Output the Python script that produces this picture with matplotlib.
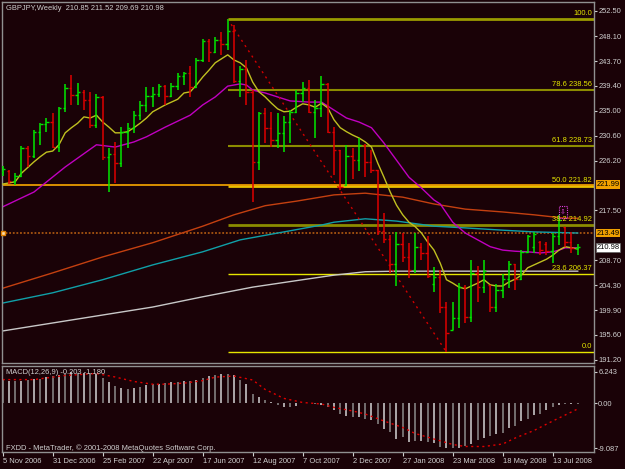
import matplotlib
matplotlib.use("Agg")
import matplotlib.pyplot as plt
import matplotlib.transforms as mtransforms
from matplotlib.patches import Rectangle

plt.rcParams['font.family'] = ['Liberation Sans', 'DejaVu Sans']

bg = "#1a0207"
grey = "#d0d0d0"
up = "#00e800"
down = "#e00000"

# weekly GBPJPY bars, 5 Nov 2006 .. Aug 2008
opens = [224.2, 224.4, 222.6, 223.5, 228.4, 227.0, 231.2, 232.6, 233.0, 228.6,
         235.5, 239.0, 237.8, 238.2, 236.9, 232.5, 237.4, 226.9, 227.3, 225.8,
         231.2, 232.0, 234.2, 236.0, 237.6, 237.9, 239.3, 237.6, 239.3, 241.1,
         241.6, 239.2, 243.9, 247.2, 245.3, 247.4, 246.7, 249.0, 240.2, 242.3,
         238.3, 226.0, 234.6, 232.0, 229.8, 231.0, 233.0, 234.8, 238.1, 239.0,
         234.8, 235.5, 239.7, 231.2, 228.0, 222.0, 227.0, 226.3, 229.0, 226.0,
         224.5, 213.8, 212.5, 208.1, 211.6, 209.3, 207.0, 211.0, 210.0, 204.5,
         205.8, 200.5, 196.5, 198.5, 204.0, 198.8, 206.5, 204.0, 204.3, 200.5,
         203.5, 205.5, 208.0, 205.5, 210.2, 211.0, 212.0, 211.5, 210.3, 213.0,
         214.5, 212.0, 210.85]
highs = [225.3, 224.6, 224.0, 228.8, 228.8, 231.6, 232.8, 233.7, 234.6, 235.6,
         239.7, 241.3, 239.9, 238.6, 238.3, 237.9, 237.6, 228.4, 229.5, 232.1,
         232.8, 234.9, 236.7, 239.2, 239.2, 239.7, 239.5, 239.9, 241.6, 241.8,
         242.8, 244.2, 247.6, 247.6, 247.9, 248.8, 251.08, 250.0, 242.8, 243.9,
         238.6, 234.8, 235.5, 234.8, 234.6, 234.1, 235.1, 238.6, 240.0, 240.4,
         236.9, 241.1, 239.8, 232.1, 228.1, 229.0, 228.4, 230.2, 229.1, 228.1,
         224.6, 217.0, 213.2, 213.7, 213.5, 211.8, 213.5, 211.8, 213.0, 207.5,
         207.0, 201.4, 201.4, 204.7, 204.4, 208.8, 207.7, 208.8, 204.4, 204.6,
         206.3, 208.6, 208.1, 210.5, 213.2, 213.7, 212.1, 211.9, 213.5, 216.7,
         214.6, 213.7, 211.52]
lows = [223.5, 222.1, 221.9, 223.3, 225.1, 226.7, 229.0, 231.2, 228.4, 227.7,
        234.8, 236.0, 236.0, 235.1, 231.9, 231.9, 226.3, 220.7, 222.3, 225.1,
        228.4, 231.1, 233.4, 234.8, 235.6, 237.4, 236.0, 237.4, 238.6, 239.5,
        237.4, 239.0, 243.5, 243.5, 245.2, 244.8, 245.7, 239.9, 237.4, 236.0,
        218.9, 224.6, 229.3, 228.6, 228.4, 227.7, 229.3, 234.6, 236.5, 234.6,
        230.2, 233.9, 231.1, 223.7, 221.1, 221.8, 223.0, 224.4, 223.3, 224.0,
        213.2, 211.8, 206.5, 204.2, 208.4, 205.6, 206.5, 208.8, 205.6, 203.1,
        199.5, 192.56, 196.4, 196.8, 197.7, 197.9, 201.4, 203.0, 199.6, 199.6,
        202.1, 203.9, 203.5, 205.3, 210.0, 210.0, 209.6, 209.6, 208.2, 211.4,
        211.1, 210.0, 209.69]
closes = [224.8, 222.6, 223.5, 228.4, 227.0, 231.2, 232.6, 233.0, 228.6, 235.5,
          239.0, 237.8, 238.2, 236.9, 232.5, 237.4, 226.9, 227.3, 225.8, 231.2,
          232.0, 234.2, 236.0, 237.6, 237.9, 239.3, 237.6, 239.3, 241.1, 241.6,
          239.2, 243.9, 247.2, 245.3, 247.4, 246.7, 249.0, 240.2, 242.3, 238.3,
          226.0, 234.6, 232.0, 229.8, 231.0, 233.0, 234.8, 238.1, 239.0, 234.8,
          235.5, 239.7, 231.2, 228.0, 221.5, 227.0, 226.3, 229.0, 226.0, 224.5,
          213.8, 212.5, 208.1, 211.6, 209.3, 207.0, 211.0, 210.0, 206.0, 205.8,
          200.5, 196.0, 198.5, 204.0, 198.8, 206.5, 204.0, 206.8, 200.5, 203.5,
          205.5, 208.0, 205.5, 210.2, 213.0, 213.4, 210.5, 210.3, 213.0, 215.8,
          212.0, 210.85, 210.98]

# moving averages
yellow_ma = [222.1, 222.3, 222.5, 224.0, 225.0, 226.0, 226.9, 227.7, 227.9, 229.0,
             231.1, 232.0, 232.8, 233.9, 233.7, 234.2, 233.0, 232.1, 231.1, 231.1,
             231.3, 232.0, 232.8, 233.7, 234.8, 235.4, 236.0, 236.5, 237.0, 238.1,
             238.3, 239.5, 240.9, 242.1, 243.4, 244.1, 244.8, 243.9, 243.4, 242.5,
             240.0, 238.3, 237.4, 236.3, 235.3, 234.8, 234.9, 235.6, 236.2, 236.0,
             235.6, 236.3, 235.5, 233.4, 232.0, 231.3, 230.7, 230.2, 229.5, 228.6,
             225.8, 223.3, 220.7, 218.4, 216.7, 215.4, 214.6, 213.5, 211.9, 210.5,
             208.2, 205.3, 204.7, 204.0, 203.7, 204.2, 204.7, 205.3, 204.4, 204.2,
             204.2, 204.9, 205.4, 206.1, 207.4, 207.9, 208.4, 208.9, 209.6, 210.5,
             211.1, 210.9, 210.7]
magenta_x = [0, 5, 10, 15, 18, 21, 23, 26, 30, 32, 34, 36, 38, 39, 40, 42, 44, 46,
             49, 51, 53, 55, 57, 59, 61, 63, 65, 67, 69, 70, 72, 74, 76, 78, 80,
             82, 84, 86, 88, 89, 90, 92]
magenta_ma = [218.1, 220.7, 225.1, 229.0, 228.6, 229.5, 230.4, 232.1, 234.2, 236.0,
              237.4, 239.3, 239.7, 239.5, 238.6, 238.1, 237.4, 236.7, 236.5, 236.5,
              235.1, 233.7, 233.0, 232.0, 229.3, 226.3, 223.3, 221.4, 219.3, 218.6,
              215.4, 213.5, 212.3, 211.1, 210.5, 210.3, 210.2, 210.0, 210.2, 210.5,
              210.9, 210.9]
orange_x = [0, 8, 16, 24, 32, 37, 42, 47, 53, 58, 64, 69, 74, 80, 85, 90, 92]
orange_ma = [203.8, 206.5, 209.3, 211.8, 214.7, 216.7, 218.3, 219.1, 220.2, 220.5,
             219.8, 218.6, 217.7, 217.2, 216.7, 216.1, 216.1]
cyan_x = [0, 8, 16, 24, 32, 38, 45, 51, 53, 58, 63, 69, 74, 80, 85, 92]
cyan_ma = [201.2, 203.0, 205.3, 207.9, 210.2, 212.3, 213.7, 214.9, 215.4, 216.0,
           215.6, 214.7, 214.4, 214.0, 213.7, 213.5]
white_x = [0, 8, 16, 24, 32, 40, 48, 53, 58, 63, 74, 92]
white_ma = [196.3, 197.7, 199.1, 200.5, 202.3, 204.0, 205.3, 206.1, 206.7, 206.8,
            206.8, 206.8]

# fibonacci retracement, bar 36 high to bar 71 low
fib_levels = ["0.0", "23.6", "38.2", "50.0", "61.8", "78.6", "100.0"]
fib_prices = [192.56, 206.37, 214.92, 221.82, 228.73, 238.56, 251.08]
fib_colors = ["#e6e600", "#e6e600", "#8c8c00", "#e8c000", "#8c8c00", "#8c8c00", "#9a9a00"]
fib_widths = [1.0, 1.0, 2.0, 2.0, 1.5, 1.5, 2.0]

# MACD(12,26,9)
macd = [4.68, 4.47, 4.47, 4.47, 4.68, 4.82, 4.82, 5.18, 5.39, 5.67,
        5.89, 6.24, 6.10, 6.10, 6.10, 5.89, 4.96, 4.11, 3.40, 3.05,
        2.84, 3.05, 3.26, 3.55, 3.76, 3.90, 3.97, 4.11, 4.26, 4.47,
        4.47, 4.68, 4.96, 5.39, 5.67, 5.82, 5.89, 5.53, 4.68, 3.76,
        1.84, 1.13, 0.57, 0.21, -0.3, -0.85, -0.85, -0.5, -0.05, -0.07,
        -0.2, -0.4, -0.87, -1.4, -2.2, -2.53, -2.73, -2.87, -3.2, -3.4,
        -4.2, -5.2, -5.87, -7.2, -6.87, -7.87, -7.53, -7.67, -7.87, -8.07,
        -8.73, -9.0, -9.087, -9.0, -8.6, -8.1, -7.4, -7.0, -6.6, -6.1,
        -5.9, -4.9, -4.6, -3.6, -3.2, -2.4, -2.1, -1.3, -0.7, -0.4,
        -0.2, -0.2, -0.203]
signal_x = [0, 5, 10, 15, 18, 21, 24, 26, 29, 32, 34, 37, 40, 42, 45, 48, 51,
            53, 56, 58, 61, 64, 66, 69, 72, 74, 77, 80, 82, 85, 88, 90, 92]
signal = [4.68, 4.68, 5.5, 5.9, 5.2, 4.3, 3.76, 3.76, 3.97, 4.47, 5.18, 5.39, 4.6,
          2.7, 0.92, 0.1, -0.2, -0.87, -1.6, -2.2, -3.6, -4.9, -6.1, -7.2, -8.3,
          -8.7, -8.7, -8.2, -7.0, -5.5, -3.6, -2.4, -1.18]

price_ticks = [252.50, 248.10, 243.70, 239.40, 235.00, 230.60, 226.20,
               217.50, 208.70, 204.30, 199.90, 195.60, 191.20]
date_labels = ["5 Nov 2006", "31 Dec 2006", "25 Feb 2007", "22 Apr 2007",
               "17 Jun 2007", "12 Aug 2007", "7 Oct 2007", "2 Dec 2007",
               "27 Jan 2008", "23 Mar 2008", "18 May 2008", "13 Jul 2008"]

fs = 5.4
fig = plt.figure(figsize=(6.25, 4.69), dpi=100, facecolor=bg)
ax = fig.add_axes([2/625, 106/469, 592/625, 361/469], facecolor=bg)
am = fig.add_axes([2/625, 17/469, 592/625, 86/469], facecolor=bg)

n = len(closes)
idx = list(range(n))
xmax = 94.6

# fibo lines and labels
for lvl, p, c, w in zip(fib_levels, fib_prices, fib_colors, fib_widths):
    ax.hlines(p, 36, xmax, color=c, lw=w, zorder=1)
    txt = lvl if lvl in ("0.0", "100.0") else f"{lvl} {p:.2f}"
    ax.text(xmax - 0.3, p + 0.35, txt, color="#e6e600", fontsize=fs,
            ha="right", va="bottom", zorder=6)

ax.axhline(221.99, color="#e89a00", lw=1.3, zorder=1)
ax.axhline(213.49, color="#a85510", lw=1.3, ls=(0, (1, 1)), zorder=1)
ax.plot([0.1], [213.49], marker="s", ms=3.5, mfc="#ffe0b0", mec="#e08000", zorder=7, clip_on=False)

# moving averages
ax.plot(white_x, white_ma, color="#c8c8c8", lw=1, zorder=2)
ax.plot(cyan_x, cyan_ma, color="#10a0a8", lw=1, zorder=2)
ax.plot(orange_x, orange_ma, color="#c44010", lw=1, zorder=2)
ax.plot(magenta_x, magenta_ma, color="#c000c0", lw=1, zorder=2)
ax.plot(idx, yellow_ma, color="#c0c020", lw=1, zorder=3)

# trend line
ax.plot([36, 71], [fib_prices[-1], fib_prices[0]], color="#d00000", lw=1,
        ls=(0, (1.5, 3)), zorder=2)

# OHLC bars
cols = [up if closes[i] >= opens[i] else down for i in idx]
ax.vlines(idx, lows, highs, colors=cols, lw=1.1, zorder=4)
ax.hlines(opens, [i - 0.38 for i in idx], idx, colors=cols, lw=1, zorder=4)
ax.hlines(closes, idx, [i + 0.38 for i in idx], colors=cols, lw=1, zorder=4)

# arrow box
ax.add_patch(Rectangle((89.0, 216.14), 1.3, 2.11, fill=False, ec="#e040e0",
                       lw=0.8, ls=(0, (1, 1)), zorder=6))
ax.text(89.65, 217.2, "\u21e9", color="#e040e0", fontsize=5, ha="center",
        va="center", family=["DejaVu Sans"], zorder=6)

ax.set_xlim(-0.11, xmax)
ax.set_ylim(190.67, 254.08)
ax.set_xticks([])
ax.yaxis.tick_right()
ax.set_yticks(price_ticks)
ax.set_yticklabels([f"{v:.2f}" for v in price_ticks])
ax.tick_params(axis="y", colors=grey, labelsize=fs, length=2, width=0.8, pad=1)

tr = mtransforms.blended_transform_factory(ax.transAxes, ax.transData)
for val, fc, tc in [(221.99, "#f0a000", "black"), (213.49, "#f0a000", "black"),
                    (210.98, "white", "black")]:
    ax.text(1.004, val, f"{val:.2f}", transform=tr, color=tc, fontsize=fs,
            ha="left", va="center", zorder=8, clip_on=False,
            bbox=dict(facecolor=fc, edgecolor="#606060" if fc == "white" else "none",
                      pad=0.6, lw=0.5))

ax.text(0.006, 0.993, "GBPJPY,Weekly  210.85 211.52 209.69 210.98", color=grey,
        fontsize=fs, ha="left", va="top", transform=ax.transAxes)

# MACD panel
hist_cols = ["#d4d4d4" if i % 2 else "#8c8c8c" for i in idx]
am.vlines(idx, 0, macd, colors=hist_cols, lw=1.1)
am.plot(signal_x, signal, color="#e00000", lw=1, ls=(0, (1.5, 2.5)))
am.set_xlim(-0.11, xmax)
am.set_ylim(-9.8, 7.4)
am.yaxis.tick_right()
am.set_yticks([6.243, 0.0, -9.087])
am.set_yticklabels(["6.243", "0.00", "-9.087"])
am.tick_params(axis="y", colors=grey, labelsize=fs, length=2, width=0.8, pad=1)
am.set_xticks(list(range(0, 89, 8)))
am.set_xticklabels(date_labels, ha="left")
am.tick_params(axis="x", colors=grey, labelsize=fs, length=3, width=0.8, pad=1.5)
am.text(0.006, 0.96, "MACD(12,26,9) -0.203 -1.180", color=grey, fontsize=fs,
        ha="left", va="top", transform=am.transAxes)
am.text(0.006, 0.0, "FXDD - MetaTrader, \u00a9 2001-2008 MetaQuotes Software Corp.",
        color=grey, fontsize=fs, ha="left", va="bottom", transform=am.transAxes)

for a in (ax, am):
    for s in a.spines.values():
        s.set_color("#909090")
        s.set_linewidth(1)

fig.savefig("out.png", dpi=100, facecolor=bg)
